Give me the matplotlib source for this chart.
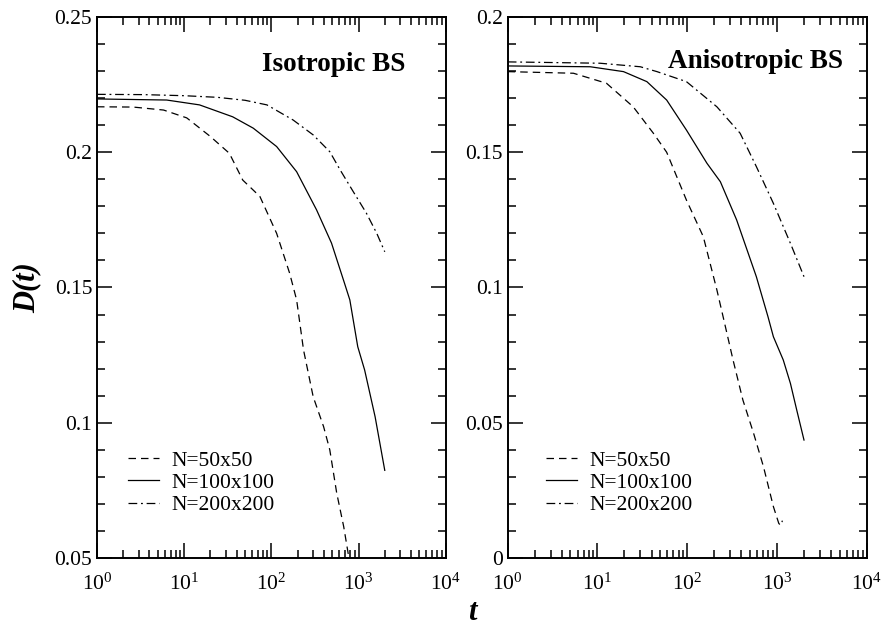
import numpy as np
import matplotlib
matplotlib.use("Agg")
import matplotlib.pyplot as plt
from matplotlib.ticker import LogLocator, LogFormatterMathtext, MultipleLocator, FormatStrFormatter


# Isotropic BS (left panel)
iso_t_50 = [1, 2.6, 5.8, 10.7, 20, 33, 47, 62, 74, 115, 162, 195, 234, 302, 398, 468, 562, 676, 776, 830]
iso_d_50 = [0.2168, 0.2167, 0.2156, 0.2127, 0.2058, 0.1996, 0.1897, 0.1860, 0.1836, 0.1700,
            0.1553, 0.1454, 0.1269, 0.1096, 0.0985, 0.0900, 0.0740, 0.0616, 0.0500, 0.0450]

iso_t_100 = [1, 6.3, 15, 36, 62, 115, 195, 330, 490, 690, 795, 980, 1175, 1550, 2000]
iso_d_100 = [0.2197, 0.2193, 0.2175, 0.2131, 0.2089, 0.2021, 0.1928, 0.1787, 0.1664, 0.1516,
             0.1454, 0.1281, 0.1195, 0.1022, 0.0824]

iso_t_200 = [1, 3.4, 10, 24, 50, 89, 178, 302, 468, 617, 871, 1230, 1620, 2000]
iso_d_200 = [0.2214, 0.2213, 0.2209, 0.2203, 0.2192, 0.2175, 0.2119, 0.2064, 0.2002, 0.1934,
             0.1854, 0.1775, 0.1700, 0.1632]

# Anisotropic BS (right panel)
ani_t_50 = [1, 5.4, 12.6, 25, 42, 59, 98, 151, 214, 251, 324, 417, 550, 708, 912, 1047, 1100, 1150]
ani_d_50 = [0.1798, 0.1792, 0.1755, 0.1668, 0.1570, 0.1500, 0.1323, 0.1188, 0.0991, 0.0892,
            0.0732, 0.0584, 0.0460, 0.0337, 0.0190, 0.0128, 0.0120, 0.0138]

ani_t_100 = [1, 8.3, 19.5, 35.5, 59, 98, 166, 234, 355, 589, 794, 912, 1175, 1413, 1660, 2000]
ani_d_100 = [0.1819, 0.1816, 0.1798, 0.1761, 0.1693, 0.1582, 0.1459, 0.1391, 0.1250, 0.1040,
             0.0892, 0.0818, 0.0732, 0.0645, 0.0547, 0.0436]

ani_t_200 = [1, 10.7, 30, 46, 98, 214, 389, 589, 912, 1413, 2000]
ani_d_200 = [0.1834, 0.1829, 0.1816, 0.1798, 0.1761, 0.1668, 0.1570, 0.1447, 0.1311, 0.1163, 0.1040]

labels = ["N=50x50", "N=100x100", "N=200x200"]
panel_titles = ["Isotropic BS", "Anisotropic BS"]


plt.rcParams["font.family"] = ["Liberation Serif", "DejaVu Serif"]
plt.rcParams["mathtext.fontset"] = "custom"
plt.rcParams["mathtext.rm"] = "Liberation Serif"
plt.rcParams["mathtext.it"] = "Liberation Serif:italic"
plt.rcParams["mathtext.bf"] = "Liberation Serif:bold"

STYLES = [
    dict(linestyle=(0, (6, 4)), color="black", lw=0.9),
    dict(linestyle="-", color="black", lw=0.9),
    dict(linestyle=(0, (7, 3, 1.5, 3)), color="black", lw=0.9),
]


def style_axes(ax, ymin, ymax):
    ax.set_xscale("log")
    ax.set_xlim(1, 1e4)
    ax.set_ylim(ymin, ymax)
    ax.xaxis.set_major_locator(LogLocator(base=10, numticks=10))
    ax.xaxis.set_minor_locator(LogLocator(base=10, subs=np.arange(2, 10), numticks=20))
    ax.xaxis.set_major_formatter(LogFormatterMathtext())
    ax.yaxis.set_major_locator(MultipleLocator(0.05))
    ax.yaxis.set_minor_locator(MultipleLocator(0.01))
    ax.tick_params(which="both", direction="in", top=True, right=True, labelsize=15.5)
    ax.tick_params(which="major", length=11, width=1.1)
    ax.tick_params(which="minor", length=5.5, width=1.1)
    ax.tick_params(axis="x", which="major", pad=11)
    for s in ax.spines.values():
        s.set_linewidth(1.4)


def draw_panel(ax, series, title, ymin, ymax, tx, ty, lx):
    for (t, d), lab, st in zip(series, labels, STYLES):
        ax.plot(t, d, label=lab, **st)
    style_axes(ax, ymin, ymax)
    ax.yaxis.set_major_formatter(FormatStrFormatter("%g"))
    ax.text(tx, ty, title, transform=ax.transAxes, ha="right", va="center",
            fontsize=19.5, fontweight="bold")
    ax.legend(loc="lower left", bbox_to_anchor=(lx, 0.079), frameon=False,
              fontsize=15.5, handlelength=1.4, handletextpad=0.6, labelspacing=0.1,
              borderaxespad=0, borderpad=0)


def main():
    fig = plt.figure(figsize=(8.81, 6.29), dpi=100)
    ax1 = fig.add_axes([0.1101, 0.1129, 0.3958, 0.8601])
    ax2 = fig.add_axes([0.5763, 0.1129, 0.4075, 0.8601])

    draw_panel(ax1, [(iso_t_50, iso_d_50), (iso_t_100, iso_d_100), (iso_t_200, iso_d_200)],
               panel_titles[0], 0.05, 0.25, 0.883, 0.912, 0.09)
    draw_panel(ax2, [(ani_t_50, ani_d_50), (ani_t_100, ani_d_100), (ani_t_200, ani_d_200)],
               panel_titles[1], 0.0, 0.2, 0.934, 0.918, 0.108)

    fig.text(27 / 881, 1 - 288 / 629, "D(t)", rotation=90, ha="center", va="center",
             fontsize=22, fontweight="bold", fontstyle="italic")
    fig.text(472 / 881, 1 - 612 / 629, "t", ha="center", va="center",
             fontsize=22, fontweight="bold", fontstyle="italic")

    fig.savefig("out.png", dpi=100)


if __name__ == "__main__":
    main()
